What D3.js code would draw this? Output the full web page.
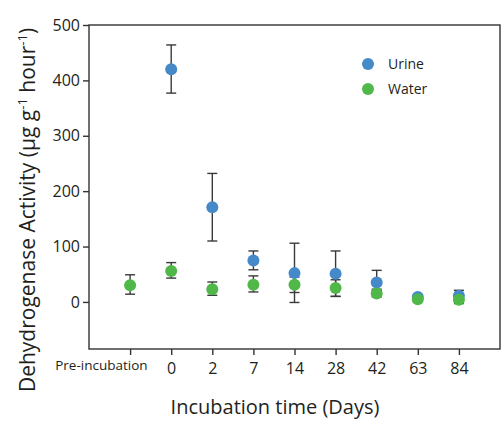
<!DOCTYPE html>
<html><head><meta charset="utf-8">
<script src="https://cdn.jsdelivr.net/npm/d3@7"></script>
<style>
html,body{margin:0;padding:0;background:#fff;}
svg{display:block;font-family:"Open Sans","Noto Sans",sans-serif;}
</style></head>
<body>
<svg id="chart" width="504" height="421"></svg>
<script>
const categories = ["Pre-incubation","0","2","7","14","28","42","63","84"];
const urineMean  = [null, 420, 171, 75, 52, 51, 35, 9, 11];
const urineLow   = [null, 377, 110, 58, -1, 10, 23, 5, 1];
const urineHigh  = [null, 464, 232, 92, 106, 92, 57, 13, 21];
const waterMean  = [30, 56, 23, 31, 31, 25, 15, 5, 4];
const waterLow   = [14, 43, 12, 18, 17, 10, 9, 2, -3];
const waterHigh  = [49, 71, 36, 47, 45, 40, 21, 8, 11];
const yTicks = [0, 100, 200, 300, 400, 500];
const seriesNames = ["Urine", "Water"];
const seriesColors = ["#4589c8", "#4fb848"];

const svg = d3.select("#chart");
const L = 89, R = 500, T = 25, B = 349;
const x = d3.scalePoint().domain(categories).range([L, R]).padding(1);
const y = d3.scaleLinear().domain([-85, 500]).range([B, T]);

// frame
svg.append("rect").attr("x", L).attr("y", T).attr("width", R - L).attr("height", B - T)
  .attr("fill", "none").attr("stroke", "#333").attr("stroke-width", 1.4);

// y axis
const yAxis = svg.append("g").attr("transform", `translate(${L},0)`)
  .call(d3.axisLeft(y).tickValues(yTicks).tickSize(6).tickPadding(3));
yAxis.select(".domain").remove();
yAxis.selectAll("line").attr("stroke", "#333").attr("stroke-width", 1.4);
yAxis.selectAll("text").attr("font-size", 16).attr("fill", "#231f20")
  .attr("font-family", "'Open Sans',sans-serif");

// x axis
const xAxis = svg.append("g").attr("transform", `translate(0,${B})`)
  .call(d3.axisBottom(x).tickSize(6).tickPadding(8));
xAxis.select(".domain").remove();
xAxis.selectAll("line").attr("stroke", "#333").attr("stroke-width", 1.4);
xAxis.selectAll("text").attr("font-size", 16).attr("fill", "#231f20")
  .attr("font-family", "'Open Sans',sans-serif");
xAxis.selectAll(".tick").filter(d => d === "Pre-incubation").select("text")
  .attr("font-size", 13.5).attr("text-anchor", "end").attr("dx", 17).attr("dy", "0.5em");

// axis titles
svg.append("text").attr("x", 275).attr("y", 414).attr("text-anchor", "middle")
  .attr("font-size", 20).attr("fill", "#231f20").text("Incubation time (Days)");

const yt = svg.append("text").attr("transform", "translate(35,210) rotate(-90)")
  .attr("text-anchor", "middle").attr("font-size", 21).attr("fill", "#231f20");
yt.append("tspan").text("Dehydrogenase Activity (µg g");
yt.append("tspan").attr("dy", -8).attr("font-size", 13).text("-1");
yt.append("tspan").attr("dy", 8).text(" hour");
yt.append("tspan").attr("dy", -8).attr("font-size", 13).text("-1");
yt.append("tspan").attr("dy", 8).text(")");

// data rows
const rows = [];
categories.forEach((c, i) => {
  if (urineMean[i] !== null) rows.push({c, s: 0, m: urineMean[i], lo: urineLow[i], hi: urineHigh[i]});
});
categories.forEach((c, i) => {
  rows.push({c, s: 1, m: waterMean[i], lo: waterLow[i], hi: waterHigh[i]});
});

// error bars
const eb = svg.append("g").attr("stroke", "#3a3a3a").attr("stroke-width", 1.4);
rows.forEach(r => {
  const cx = x(r.c);
  eb.append("line").attr("x1", cx).attr("x2", cx).attr("y1", y(r.lo)).attr("y2", y(r.hi));
  eb.append("line").attr("x1", cx - 5).attr("x2", cx + 5).attr("y1", y(r.lo)).attr("y2", y(r.lo));
  eb.append("line").attr("x1", cx - 5).attr("x2", cx + 5).attr("y1", y(r.hi)).attr("y2", y(r.hi));
});

// points
svg.append("g").selectAll("circle").data(rows).join("circle")
  .attr("cx", d => x(d.c)).attr("cy", d => y(d.m)).attr("r", 6)
  .attr("fill", d => seriesColors[d.s]);

// legend
const lg = svg.append("g");
seriesNames.forEach((n, i) => {
  lg.append("circle").attr("cx", 368).attr("cy", 64 + i * 25).attr("r", 6).attr("fill", seriesColors[i]);
  lg.append("text").attr("x", 388).attr("y", 64 + i * 25).attr("dy", "0.35em")
    .attr("font-size", 14).attr("fill", "#231f20").text(n);
});
</script>
</body></html>
